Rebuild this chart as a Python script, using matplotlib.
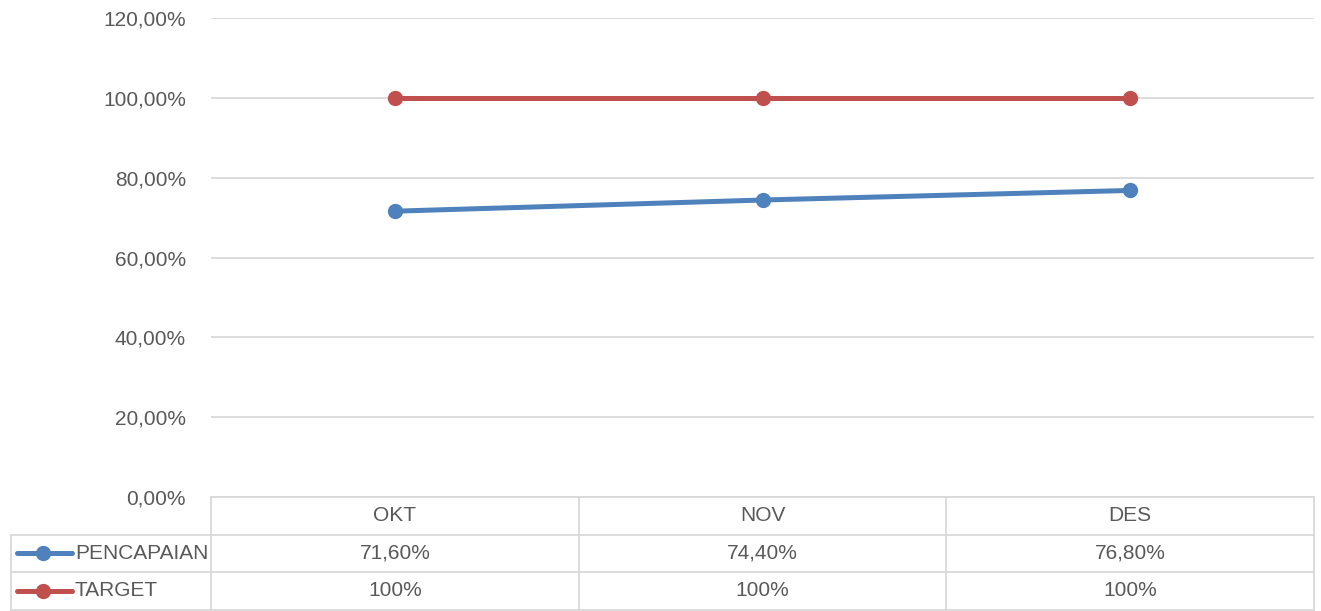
import matplotlib.pyplot as plt
from matplotlib.ticker import FuncFormatter

# ===== Data =====
months = ['OKT', 'NOV', 'DES']
pencapaian = [71.6, 74.4, 76.8]
target = [100, 100, 100]
pencapaian_txt = ['71,60%', '74,40%', '76,80%']
target_txt = ['100%', '100%', '100%']

blue = '#4F81BD'
red = '#C0504D'
grid_c = '#D9D9D9'
txt_c = '#595959'
fs = 15

plt.rcParams['font.family'] = ['Liberation Sans', 'DejaVu Sans']

fig = plt.figure(figsize=(13.21, 6.11), dpi=100)
ax = fig.add_axes([211 / 1321, 1 - 497 / 611, (1314 - 211) / 1321, (497 - 18) / 611])

x = list(range(len(months)))
ax.plot(x, pencapaian, color=blue, lw=3.6, marker='o', ms=10, zorder=3)
ax.plot(x, target, color=red, lw=3.6, marker='o', ms=10, zorder=3)

ax.set_xlim(-0.5, len(months) - 0.5)
ax.set_ylim(0, 120)
ax.set_yticks(range(0, 121, 20))
ax.yaxis.set_major_formatter(FuncFormatter(lambda v, p: f'{v:.2f}'.replace('.', ',') + '%'))
ax.tick_params(axis='y', length=0, pad=18, labelsize=fs, labelcolor=txt_c)
ax.set_xticks([])
ax.grid(axis='y', color=grid_c, lw=1.3)
for s in ax.spines.values():
    s.set_visible(False)

# ===== Data table below the axes =====
tr = ax.get_xaxis_transform()
row_h = 37.5 / 479
left_x = -0.5 - (211 - 11) / (1314 - 211) * 3
n = len(months)
line_kw = dict(color=grid_c, lw=1.3, clip_on=False, transform=tr)

# horizontal lines
ax.plot([-0.5, n - 0.5], [0, 0], **line_kw)
for r in (1, 2, 3):
    ax.plot([left_x, n - 0.5], [-r * row_h, -r * row_h], **line_kw)
# vertical lines
ax.plot([left_x, left_x], [-row_h, -3 * row_h], **line_kw)
for i in range(n + 1):
    ax.plot([i - 0.5, i - 0.5], [0, -3 * row_h], **line_kw)

for i in range(n):
    ax.text(i, -0.5 * row_h, months[i], transform=tr, ha='center', va='center',
            fontsize=fs, color=txt_c)
    ax.text(i, -1.5 * row_h, pencapaian_txt[i], transform=tr, ha='center', va='center',
            fontsize=fs, color=txt_c)
    ax.text(i, -2.5 * row_h, target_txt[i], transform=tr, ha='center', va='center',
            fontsize=fs, color=txt_c)

# legend keys in the table
unit = 3 / (1314 - 211)
for k, (lbl, col) in enumerate([('PENCAPAIAN', blue), ('TARGET', red)]):
    yy = -(1.5 + k) * row_h
    ax.plot([left_x + 6 * unit, left_x + 61 * unit], [yy, yy], color=col, lw=3.6,
            clip_on=False, transform=tr, solid_capstyle='round')
    ax.plot([left_x + 32 * unit], [yy], color=col, marker='o', ms=10,
            clip_on=False, transform=tr)
    ax.text(left_x + 64 * unit, yy, lbl, transform=tr, ha='left', va='center',
            fontsize=fs, color=txt_c)

fig.savefig('out.png', dpi=100)
